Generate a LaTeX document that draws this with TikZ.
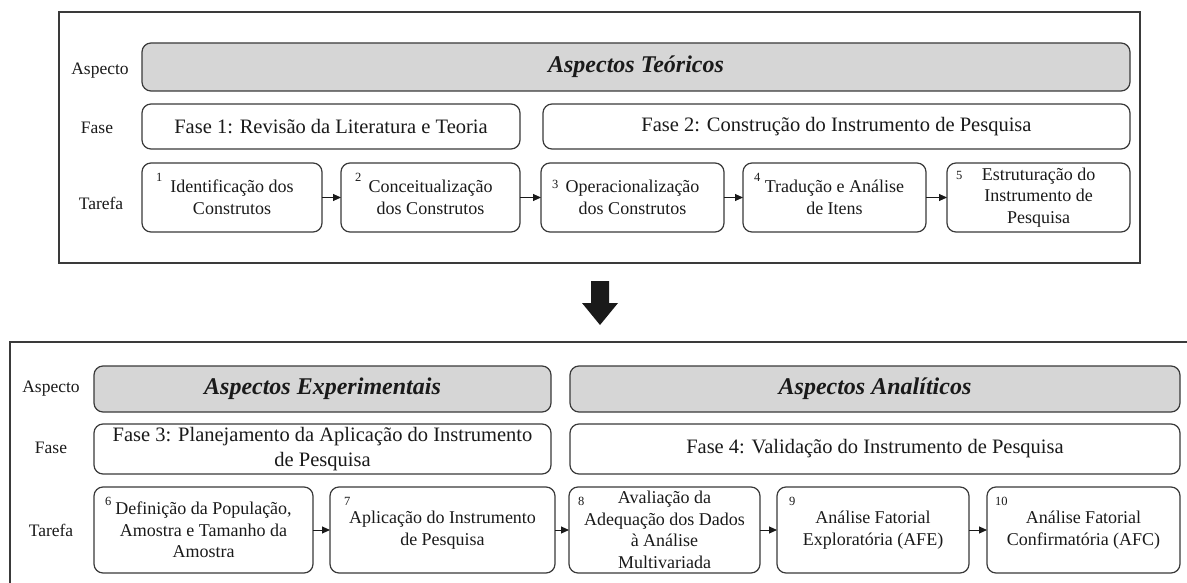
\documentclass[tikz,border=0pt]{standalone}
\usepackage{fontspec}
\setmainfont{Liberation Serif}
\usetikzlibrary{arrows.meta}
\definecolor{bord}{HTML}{3A3A3A}
\definecolor{barfill}{HTML}{D6D6D6}
\definecolor{txt}{HTML}{1A1A1A}
\begin{document}
\begin{tikzpicture}[x=1pt,y=-1pt,
  every node/.style={text=txt, inner sep=0pt, outer sep=0pt},
  frame/.style={draw=bord, line width=1.3pt},
  bar/.style={draw=bord, line width=1.2pt, fill=barfill, rounded corners=9pt, font=\fontsize{24}{28}\selectfont\bfseries\itshape},
  phase/.style={draw=bord, line width=1.2pt, fill=white, rounded corners=9pt, align=center, font=\fontsize{20.5}{25}\selectfont},
  task/.style={draw=bord, line width=1.2pt, fill=white, rounded corners=9pt, align=center, font=\fontsize{18}{21.5}\selectfont},
  rowlab/.style={font=\fontsize{17.5}{20}\selectfont},
  num/.style={font=\fontsize{12.5}{14}\selectfont, anchor=base west},
  link/.style={draw=txt, line width=1pt, -{Triangle[length=8pt,width=7pt]}},
]
\useasboundingbox (0,0) rectangle (1187,583);
\clip (0,0) rectangle (1187,583);
\fill[white] (0,0) rectangle (1187,583);

% ---------- top section ----------
\draw[frame] (59,12) rectangle (1140,263);
\node[rowlab] (la1) at (100,71) {Aspecto};
\node[rowlab] (lf1) at (97,128) {Fase};
\node[rowlab] (lt1) at (101,203) {Tarefa};

\node[bar, minimum width=988, minimum height=48] (asp1) at (636,67) {Aspectos Teóricos};
\node[phase, minimum width=378, minimum height=45] (f1) at (331,126.5) {Fase 1: Revisão da Literatura e Teoria};
\node[phase, minimum width=587, minimum height=45] (f2) at (836.5,126.5) {Fase 2: Construção do Instrumento de Pesquisa};

\node[task, minimum width=180, minimum height=69] (b1) at (232,197.5) {Identificação dos\\Construtos};
\node[task, minimum width=179, minimum height=69] (b2) at (430.5,197.5) {Conceitualização\\dos Construtos};
\node[task, minimum width=183, minimum height=69] (b3) at (632.5,197.5) {Operacionalização\\dos Construtos};
\node[task, minimum width=183, minimum height=69] (b4) at (834.5,197.5) {Tradução e Análise\\de Itens};
\node[task, minimum width=183, minimum height=69] (b5) at (1038.5,197.5) {Estruturação do\\Instrumento de\\Pesquisa};

\node[num] (n1) at (156,182) {1};
\node[num] (n2) at (355,182) {2};
\node[num] (n3) at (552,189) {3};
\node[num] (n4) at (754,182) {4};
\node[num] (n5) at (956,180) {5};

\draw[link] (b1) -- (b2);
\draw[link] (b2) -- (b3);
\draw[link] (b3) -- (b4);
\draw[link] (b4) -- (b5);

% ---------- block arrow ----------
\fill[txt] (591,281) -- (609,281) -- (609,303) -- (618,303) -- (600,325) -- (582,303) -- (591,303) -- cycle;

% ---------- bottom section ----------
\draw[frame] (10,342) rectangle (1210,610);
\node[rowlab] (la2) at (51,389) {Aspecto};
\node[rowlab] (lf2) at (51,448) {Fase};
\node[rowlab] (lt2) at (51,530) {Tarefa};

\node[bar, minimum width=457, minimum height=46] (asp2) at (322.5,389) {Aspectos Experimentais};
\node[bar, minimum width=610, minimum height=46] (asp3) at (875,389) {Aspectos Analíticos};
\node[phase, minimum width=457, minimum height=50] (f3) at (322.5,449) {Fase 3: Planejamento da Aplicação do Instrumento\\de Pesquisa};
\node[phase, minimum width=610, minimum height=50] (f4) at (875,449) {Fase 4: Validação do Instrumento de Pesquisa};

\node[task, minimum width=219, minimum height=86] (b6) at (203.5,530) {Definição da População,\\Amostra e Tamanho da\\Amostra};
\node[task, minimum width=225, minimum height=86] (b7) at (442.5,530) {Aplicação do Instrumento\\de Pesquisa};
\node[task, minimum width=191, minimum height=86] (b8) at (664.5,530) {Avaliação da\\Adequação dos Dados\\à Análise\\Multivariada};
\node[task, minimum width=192, minimum height=86] (b9) at (873,530) {Análise Fatorial\\Exploratória (AFE)};
\node[task, minimum width=193, minimum height=86] (b10) at (1083.5,530) {Análise Fatorial\\Confirmatória (AFC)};

\node[num] (n6) at (105,505) {6};
\node[num] (n7) at (344,505) {7};
\node[num] (n8) at (578,505) {8};
\node[num] (n9) at (789,505) {9};
\node[num] (n10) at (995,505) {10};

\draw[link] (b6) -- (b7);
\draw[link] (b7) -- (b8);
\draw[link] (b8) -- (b9);
\draw[link] (b9) -- (b10);
\end{tikzpicture}
\end{document}
